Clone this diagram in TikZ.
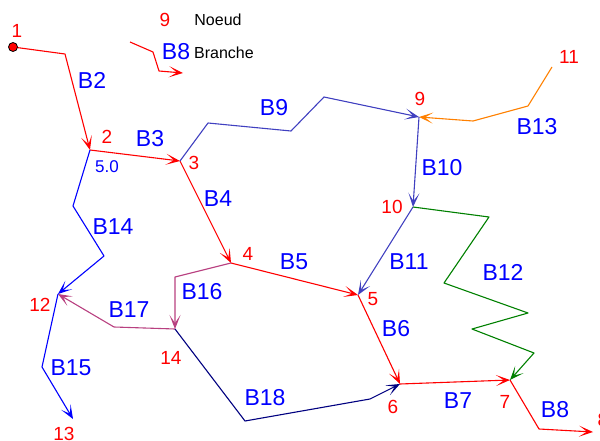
\documentclass[tikz,border=0pt]{standalone}
\usepackage{fontspec}
\setmainfont{Liberation Sans}
\usetikzlibrary{arrows.meta}
\definecolor{cslate}{RGB}{64,64,192}
\definecolor{corange}{RGB}{255,128,0}
\definecolor{cgreen}{RGB}{0,128,0}
\definecolor{cmag}{RGB}{184,64,128}
\definecolor{cnavy}{RGB}{0,0,128}
\tikzset{
  br/.style={line width=1.1pt, line join=round, -{Stealth[length=14pt,width=11pt,inset=8pt]}},
  bl/.style={text=blue, font=\fontsize{23}{23}\selectfont, inner sep=0pt},
  nl/.style={text=red, font=\fontsize{19}{19}\selectfont, inner sep=0pt},
  tl/.style={text=black, font=\fontsize{16}{16}\selectfont, inner sep=0pt},
}
\begin{document}
\begin{tikzpicture}[x=1pt,y=-1pt]
\useasboundingbox (0,0) rectangle (600,441);
% node coordinates
\coordinate (n1) at (13,47);
\coordinate (n2) at (90,150);
\coordinate (n3) at (180,161);
\coordinate (n4) at (231,263);
\coordinate (n5) at (358,295);
\coordinate (n6) at (400,384);
\coordinate (n7) at (510,380);
\coordinate (n8) at (593,432);
\coordinate (n9) at (419,117);
\coordinate (n10) at (413,207);
\coordinate (n11) at (552,67);
\coordinate (n12) at (58,294);
\coordinate (n13) at (73,419);
\coordinate (n14) at (175,329);
% legend
\coordinate (la) at (130,42);
\coordinate (lb) at (183,73);
\draw[br,red] (la) -- (153,52) -- (159,71) -- (lb);
\node[nl] (lg9) at (165,20) {9};
\node[tl] (lgn) at (218,20) {Noeud};
\node[bl] (lgb) at (176,52) {B8};
\node[tl] (lgbr) at (224,53) {Branche};
% branches
\draw[br,red] (n1) -- (65,54) -- (n2);
\draw[br,red] (n2) -- (n3);
\draw[br,red] (n3) -- (n4);
\draw[br,red] (n4) -- (n5);
\draw[br,red] (n5) -- (n6);
\draw[br,red] (n6) -- (n7);
\draw[br,red] (n7) -- (539,429) -- (n8);
\draw[br,cslate] (n3) -- (208,123) -- (291,131) -- (324,97) -- (n9);
\draw[br,corange] (n11) -- (528,106) -- (473,121) -- (n9);
\draw[br,cslate] (n9) -- (n10);
\draw[br,cslate] (n10) -- (n5);
\draw[br,cgreen] (n10) -- (489,217) -- (444,283) -- (528,313) -- (472,329) -- (534,353) -- (n7);
\draw[br,cmag] (n4) -- (175,277) -- (n14);
\draw[br,cmag] (n14) -- (114,327) -- (n12);
\draw[br,blue] (n2) -- (73,206) -- (104,256) -- (n12);
\draw[br,blue] (n12) -- (42,367) -- (n13);
\draw[br,cnavy] (n14) -- (245,421) -- (370,399) -- (n6);
\filldraw[fill=red,draw=black,line width=0.8pt] (n1) circle (4.5pt);
% node labels
\node[nl] (t1) at (17,31) {1};
\node[nl] (t2) at (107,137) {2};
\node[text=blue, font=\fontsize{17}{17}\selectfont, inner sep=0pt] (t2v) at (107,167) {5.0};
\node[nl] (t3) at (194,163) {3};
\node[nl] (t4) at (248,254) {4};
\node[nl] (t5) at (373,299) {5};
\node[nl] (t6) at (393,407) {6};
\node[nl] (t7) at (505,402) {7};
\node[nl] (t8) at (603,420) {8};
\node[nl] (t9) at (420,99) {9};
\node[nl] (t10) at (392,207) {10};
\node[nl] (t11) at (569,57) {11};
\node[nl] (t12) at (40,305) {12};
\node[nl] (t13) at (64,434) {13};
\node[nl] (t14) at (171,358) {14};
% branch labels
\node[bl] (b2) at (92,80) {B2};
\node[bl] (b3) at (150,139) {B3};
\node[bl] (b4) at (218,199) {B4};
\node[bl] (b5) at (294,262) {B5};
\node[bl] (b6) at (396,329) {B6};
\node[bl] (b7) at (458,401) {B7};
\node[bl] (b8) at (555,410) {B8};
\node[bl] (b9) at (274,108) {B9};
\node[bl] (b10) at (442,168) {B10};
\node[bl] (b11) at (409,262) {B11};
\node[bl] (b12) at (503,272) {B12};
\node[bl] (b13) at (537,127) {B13};
\node[bl] (b14) at (113,227) {B14};
\node[bl] (b15) at (71,368) {B15};
\node[bl] (b16) at (202,292) {B16};
\node[bl] (b17) at (129,310) {B17};
\node[bl] (b18) at (265,398) {B18};
\end{tikzpicture}
\end{document}
